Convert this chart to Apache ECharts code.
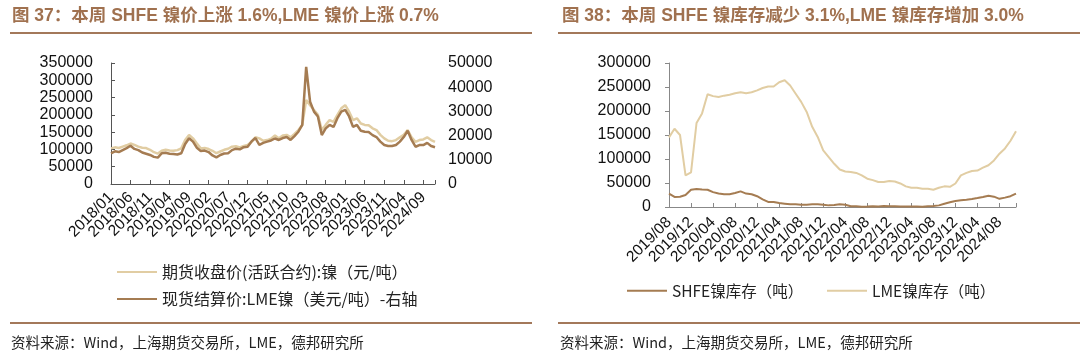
<!DOCTYPE html>
<html><head><meta charset="utf-8">
<script src="https://cdn.jsdelivr.net/npm/echarts@6/dist/echarts.min.js"></script>
<style>html,body{margin:0;padding:0;background:#fff;}#c{width:1080px;height:360px;}</style>
</head><body><div id="c"></div>
<script>
// ---- Left chart: nickel prices (monthly, 2018/01 - 2024/12)
const priceMonths = [];
for (let y = 2018; y <= 2024; y++) for (let m = 1; m <= 12; m++) priceMonths.push(y + '/' + String(m).padStart(2, '0'));
const shfePrice = [
 103000,106000,104000,108000,112000,117000,113000,108000,105000,104000,99000,92000,
 88000,96000,99000,97000,96000,98000,103000,127000,142000,132000,117000,103000,
 104000,101000,96000,89000,94000,99000,102000,108000,109000,106000,110000,113000,
 122000,135000,132000,125000,127000,131000,140000,132000,140000,142000,135000,145000,
 156000,171000,243000,228000,214000,200000,156000,171000,185000,180000,200000,219000,
 228000,209000,185000,190000,175000,171000,170000,161000,156000,142000,132000,125000,
 124000,127000,135000,142000,156000,135000,122000,127000,129000,135000,127000,122000
];
const lmePrice = [
 12700,13500,13200,14000,14800,15800,14500,14000,13000,12500,12000,11200,
 10900,12700,12900,12500,12400,12200,12700,16500,18900,17500,15000,13600,
 13800,13200,11800,11000,12000,12600,12700,14000,14600,14300,15200,15400,
 17600,19000,16200,17000,17500,18000,18800,18200,19000,19400,18200,19800,
 21600,24400,48400,34000,29900,27900,20200,23000,24400,23600,27200,29900,
 30600,27900,23600,24400,22000,21600,21500,20200,19400,17500,16100,15700,
 15700,16100,17500,19400,22000,18200,15400,16100,16100,17000,15700,15200
];
// ---- Right chart: nickel inventories (monthly, 2019/08 - 2024/11)
const stockMonths = [];
for (let y = 2019; y <= 2024; y++) for (let m = 1; m <= 12; m++) {
  if ((y === 2019 && m < 8) || (y === 2024 && m > 11)) continue;
  stockMonths.push(y + '/' + String(m).padStart(2, '0'));
}
const shfeStock = [
 28000,21000,21500,25000,36000,
 37500,36500,36000,31000,28000,26500,26500,29000,32500,28000,26500,22500,
 16000,10500,10500,8300,7000,5500,5500,4800,4800,5500,5500,4800,
 3400,4000,5500,4800,1400,1500,700,800,1500,1200,2000,1500,
 1500,1200,1000,800,1000,500,1500,2000,3400,6900,9700,12500,
 14000,15300,16700,18700,21000,23600,21500,17000,19500,22500,28000
];
const lmeStock = [
 145000,163000,150000,66000,72000,
 175000,195000,235000,231000,229000,232000,234000,237000,239000,237000,239000,243000,
 248000,251000,251000,260000,264000,253000,236000,219000,198000,167000,146000,118000,
 104000,90000,78000,74000,73000,71000,66000,59000,56000,52000,52000,54000,
 53000,49000,43000,40000,40000,38000,38000,36000,40000,43000,42000,49000,
 66000,71000,75000,76000,82000,87000,97000,111000,122000,138000,158000
];
const leftNames = ['期货收盘价(活跃合约):镍（元/吨）', '现货结算价:LME镍（美元/吨）-右轴'];
const rightNames = ['SHFE镍库存（吨）', 'LME镍库存（吨）'];

const LIGHT = '#e1cda3', DARK = '#a57c52', BROWN = '#a3785a';
const FONT = '"Liberation Sans", Arial, "Noto Sans CJK SC", sans-serif';
const CJK = '"Noto Sans CJK SC", "Liberation Sans", sans-serif';

const chart = echarts.init(document.getElementById('c'), null, {renderer: 'canvas'});
const plain = v => String(v);
const yLab = {fontSize: 16, color: '#111', fontFamily: FONT, formatter: plain};
const xLab = {fontSize: 15.5, color: '#111', fontFamily: FONT, rotate: 45, interval: 0, hideOverlap: false};
chart.setOption({
  animation: false,
  textStyle: {fontFamily: FONT},
  grid: [
    {left: 111, top: 63, width: 324, height: 121},
    {left: 669, top: 63, width: 347, height: 144}
  ],
  xAxis: [
    {type: 'category', gridIndex: 0, data: priceMonths, boundaryGap: false,
     axisLine: {lineStyle: {color: '#555'}},
     axisTick: {inside: true, length: 4, interval: 4, lineStyle: {color: '#555'}},
     axisLabel: Object.assign({margin: 11, formatter: (v, i) => (i % 5 === 0 ? v : '')}, xLab)},
    {type: 'category', gridIndex: 1, data: stockMonths, boundaryGap: false,
     axisLine: {lineStyle: {color: '#888'}},
     axisTick: {inside: true, length: 4, interval: 3, lineStyle: {color: '#888'}},
     axisLabel: Object.assign({margin: 13, formatter: (v, i) => (i % 4 === 0 ? v : '')}, xLab)}
  ],
  yAxis: [
    {type: 'value', gridIndex: 0, min: 0, max: 350000, interval: 50000,
     splitLine: {show: false},
     axisLine: {show: true, lineStyle: {color: '#555'}},
     axisTick: {show: true, inside: true, length: 4, lineStyle: {color: '#555'}},
     axisLabel: Object.assign({margin: 18}, yLab)},
    {type: 'value', gridIndex: 0, position: 'right', min: 0, max: 50000, interval: 10000,
     splitLine: {show: false}, axisLine: {show: false}, axisTick: {show: false},
     axisLabel: Object.assign({margin: 13}, yLab)},
    {type: 'value', gridIndex: 1, min: 0, max: 300000, interval: 50000,
     splitLine: {show: false},
     axisLine: {show: true, lineStyle: {color: '#888'}},
     axisTick: {show: true, inside: false, length: 4, lineStyle: {color: '#888'}},
     axisLabel: Object.assign({margin: 18}, yLab)}
  ],
  legend: [
    {data: leftNames, orient: 'vertical', left: 112, top: 259, itemWidth: 40, itemHeight: 2,
     itemGap: 11, icon: 'rect', textStyle: {fontSize: 16, color: '#222', fontFamily: CJK}},
    {data: [rightNames[0]], left: 622, top: 278, itemWidth: 40, itemHeight: 2, icon: 'rect',
     textStyle: {fontSize: 15.5, color: '#222', fontFamily: CJK}},
    {data: [rightNames[1]], left: 822, top: 278, itemWidth: 40, itemHeight: 2, icon: 'rect',
     textStyle: {fontSize: 15.5, color: '#222', fontFamily: CJK}}
  ],
  series: [
    {name: leftNames[0], type: 'line', xAxisIndex: 0, yAxisIndex: 0, data: shfePrice,
     showSymbol: false, lineStyle: {color: LIGHT, width: 2.5}, itemStyle: {color: LIGHT}},
    {name: leftNames[1], type: 'line', xAxisIndex: 0, yAxisIndex: 1, data: lmePrice,
     showSymbol: false, lineStyle: {color: DARK, width: 2.5}, itemStyle: {color: DARK}},
    {name: rightNames[0], type: 'line', xAxisIndex: 1, yAxisIndex: 2, data: shfeStock,
     showSymbol: false, lineStyle: {color: DARK, width: 2}, itemStyle: {color: DARK}},
    {name: rightNames[1], type: 'line', xAxisIndex: 1, yAxisIndex: 2, data: lmeStock,
     showSymbol: false, lineStyle: {color: LIGHT, width: 2}, itemStyle: {color: LIGHT}}
  ],
  graphic: [
    {type: 'text', left: 12, top: 7, style: {text: '图 37：本周 SHFE 镍价上涨 1.6%,LME 镍价上涨 0.7%',
      fill: '#a0714f', font: 'bold 17.5px ' + FONT}},
    {type: 'text', left: 562, top: 7, style: {text: '图 38：本周 SHFE 镍库存减少 3.1%,LME 镍库存增加 3.0%',
      fill: '#a0714f', font: 'bold 17.5px ' + FONT}},
    {type: 'line', shape: {x1: 10, y1: 33, x2: 532, y2: 33}, style: {stroke: BROWN, lineWidth: 2}},
    {type: 'line', shape: {x1: 558, y1: 33, x2: 1080, y2: 33}, style: {stroke: BROWN, lineWidth: 2}},
    {type: 'line', shape: {x1: 10, y1: 323, x2: 532, y2: 323}, style: {stroke: BROWN, lineWidth: 2}},
    {type: 'line', shape: {x1: 558, y1: 323, x2: 1080, y2: 323}, style: {stroke: BROWN, lineWidth: 2}},
    {type: 'text', left: 11, top: 335, style: {text: '资料来源：Wind，上海期货交易所，LME，德邦研究所',
      fill: '#222', font: '14.5px ' + CJK}},
    {type: 'text', left: 560, top: 335, style: {text: '资料来源：Wind，上海期货交易所，LME，德邦研究所',
      fill: '#222', font: '14.5px ' + CJK}}
  ]
});
</script></body></html>
